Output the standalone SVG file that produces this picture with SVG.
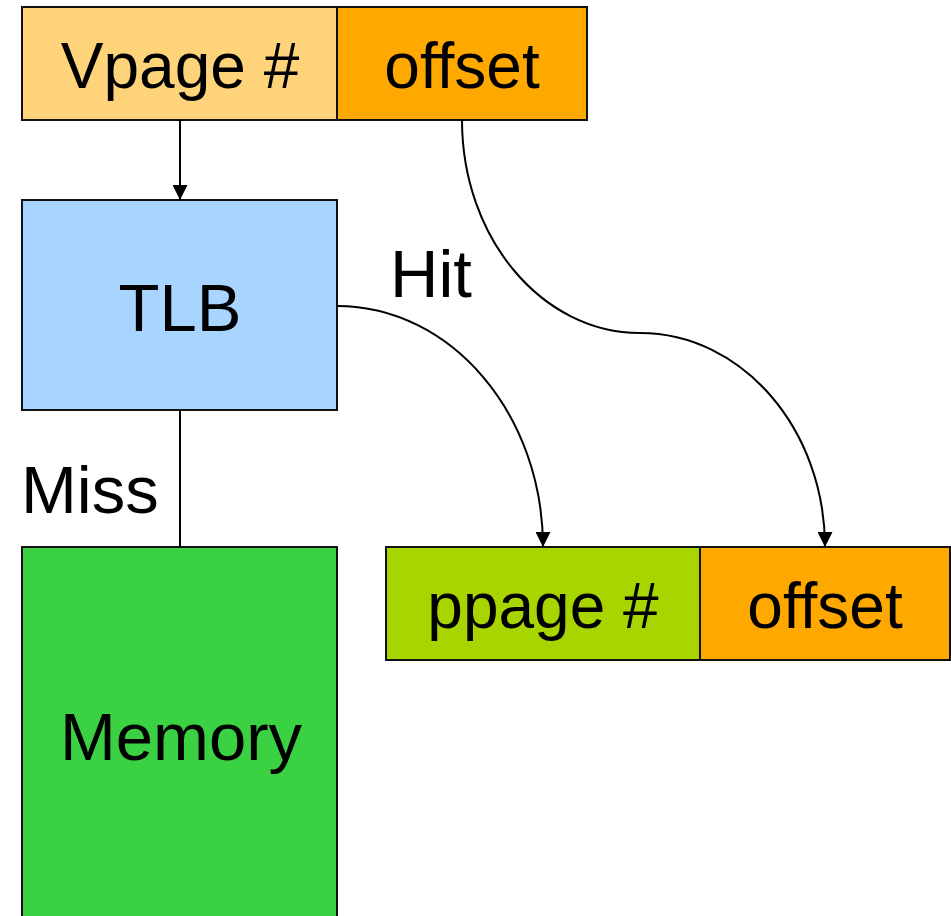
<svg xmlns="http://www.w3.org/2000/svg" width="951" height="916" viewBox="0 0 951 916">
<style>
.box{stroke:#111;stroke-width:2}
.lbl{font-family:"Liberation Sans",Arial,sans-serif;font-size:64px;fill:#000;text-anchor:middle}
.big{font-family:"Liberation Sans",Arial,sans-serif;font-size:67px;fill:#000}
.con{fill:none;stroke:#000;stroke-width:2}
</style>
<defs>
<marker id="ah" markerWidth="15" markerHeight="15" viewBox="0 0 15 15" refX="15" refY="7.5" orient="auto" markerUnits="userSpaceOnUse">
<path d="M0,0 L15,7.5 L0,15 Z" fill="#000"/>
</marker>
</defs>
<rect width="951" height="916" fill="#fff"/>
<g id="vpage"><rect class="box" x="22" y="7" width="315" height="113" fill="#FFD37A"/><text class="lbl" x="180" y="88">Vpage #</text></g>
<g id="voffset"><rect class="box" x="337" y="7" width="250" height="113" fill="#FFA800"/><text class="lbl" x="462" y="88">offset</text></g>
<g id="tlb"><rect class="box" x="22" y="200" width="315" height="210" fill="#A8D5FF"/><text class="big" x="180" y="331" text-anchor="middle">TLB</text></g>
<g id="memory"><rect class="box" x="22" y="547" width="315" height="380" fill="#3AD142"/><text class="big" x="181" y="760" text-anchor="middle">Memory</text></g>
<g id="ppage"><rect class="box" x="386" y="547" width="314" height="113" fill="#A8D500"/><text class="lbl" x="543" y="628">ppage #</text></g>
<g id="poffset"><rect class="box" x="700" y="547" width="250" height="113" fill="#FFA800"/><text class="lbl" x="825" y="628">offset</text></g>
<g id="labels">
<text class="big" x="21" y="513">Miss</text>
<text class="big" x="390" y="297">Hit</text>
</g>
<g id="connectors">
<path class="con" d="M180,120 L180,200" marker-end="url(#ah)"/>
<path class="con" d="M180,410 L180,547"/>
<path class="con" d="M337,306 C451,306 543,414 543,547" marker-end="url(#ah)"/>
<path class="con" d="M462,120 C462,238 542,333 640,333 C742,333 825,429 825,547" marker-end="url(#ah)"/>
</g>
</svg>
